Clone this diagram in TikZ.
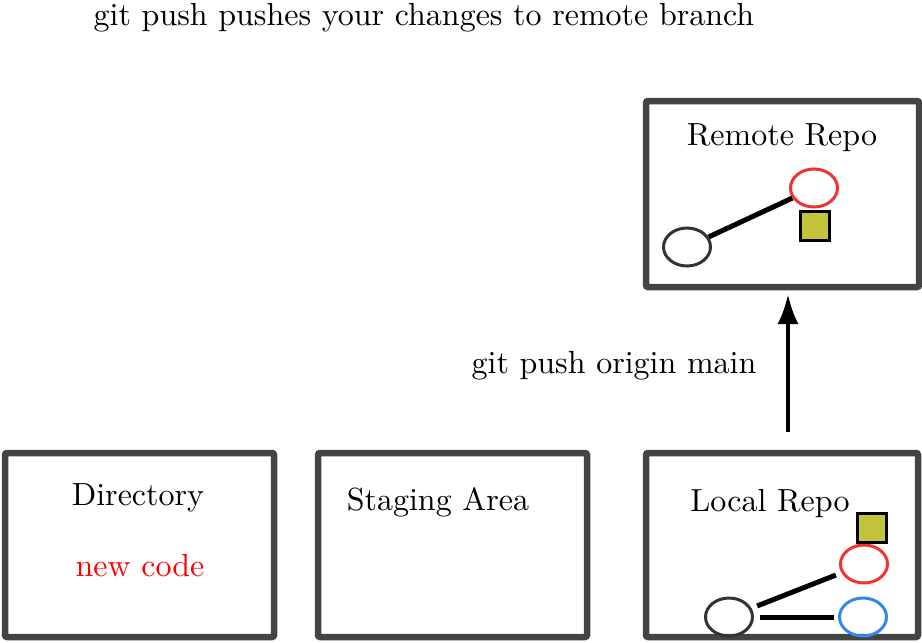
\documentclass[tikz,border=0pt]{standalone}
\usetikzlibrary{arrows.meta,shapes.geometric}
\definecolor{boxgray}{HTML}{444444}
\definecolor{cred}{HTML}{EE3333}
\definecolor{cblue}{HTML}{3388EE}
\definecolor{cdark}{HTML}{333333}
\definecolor{cyel}{HTML}{C4C43A}
\begin{document}
\begin{tikzpicture}[x=1pt,y=-1pt,
  lbl/.style={font=\fontsize{10}{12}\selectfont, inner sep=0pt, scale=3.2, transform shape},
  repobox/.style={draw=boxgray, line width=6.5pt, rounded corners=2pt},
  commit/.style={ellipse, draw, line width=3pt, minimum width=47pt, minimum height=38pt, inner sep=0pt},
  tag/.style={rectangle, draw=black, fill=cyel, line width=3pt, minimum size=29pt, inner sep=0pt},
  link/.style={line width=5pt, black}
]
\useasboundingbox (0,0) rectangle (922,643);
% boxes
\draw[repobox] (646,101) rectangle (919,287);
\draw[repobox] (5,453) rectangle (274,637);
\draw[repobox] (318,453) rectangle (587,637);
\draw[repobox] (646,453) rectangle (918,637);
% titles
\node[lbl, anchor=base] (title) at (424,25) {git push pushes your changes to remote branch};
\node[lbl] (remote) at (782,138) {Remote Repo};
\node[lbl] (dir) at (138,498) {Directory};
\node[lbl, text=red] (newcode) at (140,566) {new code};
\node[lbl] (staging) at (438,502) {Staging Area};
\node[lbl] (local) at (770,503) {Local Repo};
\node[lbl] (pushlbl) at (614,366) {git push origin main};
% remote commits
\node[commit, draw=cred] (rr) at (814,188) {};
\node[commit, draw=cdark] (rd) at (687,247) {};
\node[tag] (rt) at (815,226) {};
\draw[link] (rd) -- (rr);
% local commits
\node[commit, draw=cred] (lr) at (864,564) {};
\node[commit, draw=cblue] (lb) at (863,617) {};
\node[commit, draw=cdark] (ld) at (729,617) {};
\node[tag] (lt) at (872,528) {};
\draw[link, shorten <=6pt, shorten >=6pt] (ld) -- (lr);
\draw[link, shorten <=6pt, shorten >=4pt] (ld) -- (lb);
% push arrow
\coordinate (pushstart) at (788,432);
\coordinate (pushend) at (788,294);
\draw[line width=4pt, -{Latex[length=30pt,width=21pt]}] (pushstart) -- (pushend);
\end{tikzpicture}
\end{document}
